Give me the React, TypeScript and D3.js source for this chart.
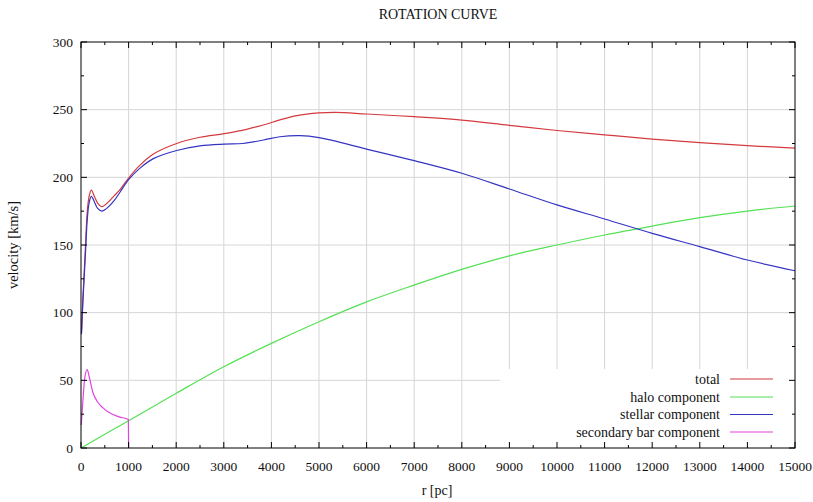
import React from "react";
import * as d3 from "d3";

// Rotation curve components: [radius in pc, velocity in km/s]
const totalCurve: [number, number][] = [
  [10, 86], [40, 111], [70, 132], [100, 154], [130, 174], [170, 186], [217, 190.5],
  [280, 186], [350, 181], [440, 178.3], [520, 180], [700, 186.5], [819, 191],
  [1000, 199.5], [1240, 209], [1520, 217.2], [2010, 225], [2500, 229.6], [3010, 232.3],
  [3480, 235.5], [3830, 238.7], [4180, 242.4], [4530, 245.6], [5000, 247.6], [5350, 248],
  [6000, 246.8], [7000, 244.8], [8000, 242.3], [9000, 238.4], [10000, 234.6],
  [11000, 231.4], [12000, 228.3], [13000, 225.6], [14000, 223.4], [15000, 221.6],
];

const haloCurve: [number, number][] = [
  [0, 0], [1000, 20.2], [2000, 40.4], [3000, 60], [4000, 77.3], [5000, 93.3],
  [6000, 108], [7000, 120.4], [8000, 132], [9000, 142], [10000, 150], [11000, 157.4],
  [12000, 164], [13000, 170.2], [14000, 175.1], [15000, 178.8],
];

const stellarCurve: [number, number][] = [
  [10, 84], [40, 108], [70, 128], [100, 148], [130, 168], [170, 181], [217, 186],
  [280, 182], [350, 177], [440, 175], [520, 176.5], [700, 183], [819, 189],
  [1000, 198.3], [1240, 206.8], [1520, 213.8], [2010, 219.8], [2500, 223.2],
  [3010, 224.5], [3400, 225], [3830, 227.6], [4180, 230], [4600, 230.8], [5000, 229.3],
  [6000, 220.9], [7000, 212.3], [8000, 203], [9000, 191.4], [10000, 179.6],
  [11000, 169.2], [12000, 158.6], [13000, 148.8], [14000, 138.9], [15000, 131],
];

const barCurve: [number, number][] = [
  [5, 17], [40, 35], [80, 52], [130, 58], [170, 53], [250, 41], [350, 34],
  [450, 30], [600, 26], [800, 23], [995, 21], [1000, 0],
];

const xTicks = d3.range(0, 15001, 1000);
const yTicks = d3.range(0, 301, 50);

const seriesNames = ["total", "halo component", "stellar component", "secondary bar component"];
const seriesColors = ["#d43a3e", "#55e055", "#3535c2", "#e044e0"];
const seriesData = [totalCurve, haloCurve, stellarCurve, barCurve];

const W = 813;
const H = 502;
const M = { left: 81, right: 795, top: 42, bottom: 448 };
const FONT = "'Liberation Serif', 'DejaVu Serif', serif";

export default function App() {
  const x = d3.scaleLinear().domain([0, 15000]).range([M.left, M.right]);
  const y = d3.scaleLinear().domain([0, 300]).range([M.bottom, M.top]);
  const smooth = d3
    .line<[number, number]>()
    .x((d) => x(d[0]))
    .y((d) => y(d[1]))
    .curve(d3.curveCatmullRom.alpha(0.5));
  const mono = d3
    .line<[number, number]>()
    .x((d) => x(d[0]))
    .y((d) => y(d[1]))
    .curve(d3.curveMonotoneX);

  const xMinor = d3.range(500, 15000, 1000);
  const yMinor = d3.range(25, 300, 50);

  const legendTextX = 720;
  const legendLine = [730, 773];
  const legendRows = [379, 397, 414.5, 432];

  return (
    <svg
      width={W}
      height={H}
      style={{ position: "absolute", left: 0, top: 0, background: "#fff" }}
      fontFamily={FONT}
    >
      <rect x={0} y={0} width={W} height={H} fill="#fff" />
      {/* grid */}
      <g stroke="#d6d6d6" strokeWidth={1}>
        {xTicks.slice(1, -1).map((t) => (
          <line key={"gx" + t} x1={x(t)} x2={x(t)} y1={M.top} y2={M.bottom} />
        ))}
        {yTicks.slice(1, -1).map((t) => (
          <line key={"gy" + t} x1={M.left} x2={M.right} y1={y(t)} y2={y(t)} />
        ))}
      </g>

      {/* curves */}
      <g fill="none" strokeWidth={1.2}>
        {seriesData.map((d, i) => (
          <path
            key={seriesNames[i]}
            d={(i === 3 ? mono(d) : smooth(d)) || ""}
            stroke={seriesColors[i]}
          />
        ))}
      </g>

      {/* legend box */}
      <rect x={500} y={369} width={M.right - 500} height={M.bottom - 369} fill="#fff" />
      <g fontSize={14} textAnchor="end" fill="#111">
        {seriesNames.map((n, i) => (
          <g key={n}>
            <text x={legendTextX} y={legendRows[i]} dy="0.35em">
              {n}
            </text>
            <line
              x1={legendLine[0]}
              x2={legendLine[1]}
              y1={legendRows[i]}
              y2={legendRows[i]}
              stroke={seriesColors[i]}
              strokeWidth={1.2}
            />
          </g>
        ))}
      </g>

      {/* ticks, inward on all sides */}
      <g stroke="#000" strokeWidth={1}>
        {xTicks.map((t) => (
          <g key={"tx" + t}>
            <line x1={x(t)} x2={x(t)} y1={M.bottom} y2={M.bottom - 6} />
            <line x1={x(t)} x2={x(t)} y1={M.top} y2={M.top + 6} />
          </g>
        ))}
        {xMinor.map((t) => (
          <g key={"mx" + t}>
            <line x1={x(t)} x2={x(t)} y1={M.bottom} y2={M.bottom - 3} />
            <line x1={x(t)} x2={x(t)} y1={M.top} y2={M.top + 3} />
          </g>
        ))}
        {yTicks.map((t) => (
          <g key={"ty" + t}>
            <line x1={M.left} x2={M.left + 6} y1={y(t)} y2={y(t)} />
            <line x1={M.right} x2={M.right - 6} y1={y(t)} y2={y(t)} />
          </g>
        ))}
        {yMinor.map((t) => (
          <g key={"my" + t}>
            <line x1={M.left} x2={M.left + 3} y1={y(t)} y2={y(t)} />
            <line x1={M.right} x2={M.right - 3} y1={y(t)} y2={y(t)} />
          </g>
        ))}
      </g>
      <rect
        x={M.left}
        y={M.top}
        width={M.right - M.left}
        height={M.bottom - M.top}
        fill="none"
        stroke="#000"
        strokeWidth={1}
      />

      {/* tick labels */}
      <g fontSize={13.5} fill="#111">
        {xTicks.map((t) => (
          <text key={"lx" + t} x={x(t)} y={M.bottom + 23} textAnchor="middle">
            {t}
          </text>
        ))}
        {yTicks.map((t) => (
          <text key={"ly" + t} x={M.left - 8} y={y(t)} dy="0.35em" textAnchor="end">
            {t}
          </text>
        ))}
      </g>

      {/* titles */}
      <text x={438} y={19} fontSize={14} textAnchor="middle" fill="#111">
        ROTATION CURVE
      </text>
      <text x={437} y={495} fontSize={14} textAnchor="middle" fill="#111">
        r [pc]
      </text>
      <text
        transform={`translate(18, 245) rotate(-90)`}
        fontSize={14.5}
        textAnchor="middle"
        fill="#111"
      >
        velocity [km/s]
      </text>
    </svg>
  );
}
